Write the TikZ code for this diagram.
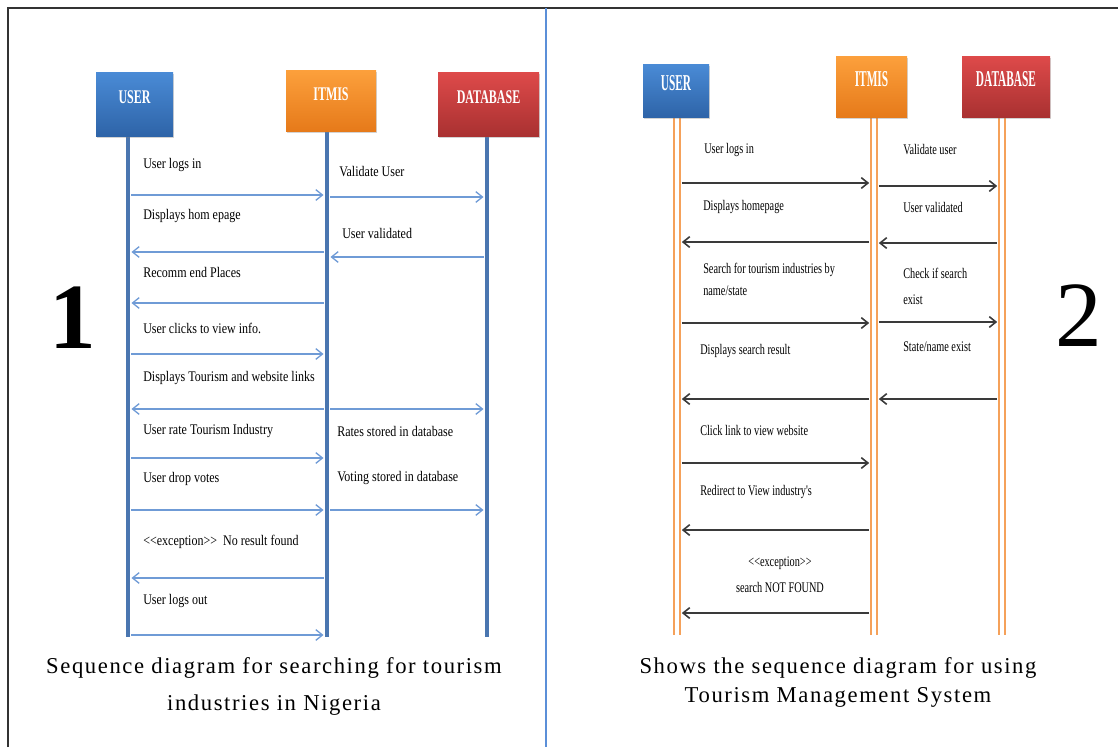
\documentclass[tikz,border=0pt]{standalone}
\usepackage{fontspec}
\setmainfont{Liberation Serif}
\newfontfamily\lblfontL[FakeStretch=0.82]{Liberation Serif}
\newfontfamily\lblfontR[FakeStretch=0.70]{Liberation Serif}
\newfontfamily\boxfontL[FakeStretch=0.62]{Liberation Serif}
\newfontfamily\boxfontR[FakeStretch=0.50]{Liberation Serif}
\newfontfamily\capfont[LetterSpace=7]{Liberation Serif}
\usetikzlibrary{arrows.meta,shadows}

\definecolor{lineblue}{HTML}{4A76B0}
\definecolor{arrowblue}{HTML}{6F9BD6}
\definecolor{lineorange}{HTML}{F5A15A}
\definecolor{arrowdark}{HTML}{3A3A3A}
\definecolor{blueT}{HTML}{4A8BD6}
\definecolor{blueB}{HTML}{2E64A8}
\definecolor{orangeT}{HTML}{FCA03C}
\definecolor{orangeB}{HTML}{E67A1A}
\definecolor{redT}{HTML}{DE4A4A}
\definecolor{redB}{HTML}{A93131}
\definecolor{divblue}{HTML}{5B8FD8}

\begin{document}
\begin{tikzpicture}[x=0.75pt,y=-0.75pt,line cap=butt,
  >={Straight Barb[length=5pt,width=8pt]},
  frame/.style={draw=black!80,line width=1.4pt},
  divider/.style={draw=divblue,line width=0.9pt},
  lifeL/.style={draw=lineblue,line width=3.6pt},
  lifeR/.style={draw=lineorange,line width=1.3pt,double=white,double distance=3.4pt},
  msgL/.style={->,draw=arrowblue,line width=1pt,shorten <=2.6pt,shorten >=2.6pt},
  msgR/.style={->,draw=arrowdark,line width=1.2pt,shorten <=3.6pt,shorten >=3.6pt},
  actor/.style={inner sep=0,text=white,drop shadow={shadow xshift=1pt,shadow yshift=-1.5pt,opacity=0.35}},
  actorL/.style={actor,font=\boxfontL\bfseries\fontsize{14.5}{16}\selectfont,text depth=10pt},
  actorR/.style={actor,font=\boxfontR\bfseries\fontsize{17}{19}\selectfont,text depth=12pt},
  userbox/.style={top color=blueT,bottom color=blueB},
  itmisbox/.style={top color=orangeT,bottom color=orangeB},
  dbbox/.style={top color=redT,bottom color=redB},
  lblL/.style={anchor=west,inner sep=0,font=\lblfontL\fontsize{11}{13}\selectfont},
  lblR/.style={anchor=west,inner sep=0,align=left,font=\lblfontR\fontsize{11}{16.5}\selectfont},
  caption/.style={inner sep=0,font=\capfont\fontsize{17}{20}\selectfont}]
  \useasboundingbox (0,0) rectangle (1118,747);

  % frame
  \draw[frame] (8,747) -- (8,8) -- (1118,8);
  \draw[divider] (546,8) -- (546,747);

  % diagram 1
  \coordinate (lu) at (128,136);
  \coordinate (li) at (327,131);
  \coordinate (ld) at (487,136);
  \draw[lifeL] (lu) -- (lu |- 0,637);
  \draw[lifeL] (li) -- (li |- 0,637);
  \draw[lifeL] (ld) -- (ld |- 0,637);
  \node[actorL,userbox,minimum width=57.75pt,minimum height=48pt] (userL) at (134.5,104) {USER};
  \node[actorL,itmisbox,minimum width=67.5pt,minimum height=45.75pt] (itmisL) at (331,100.5) {ITMIS};
  \node[actorL,dbbox,minimum width=75.75pt,minimum height=48pt] (dbL) at (488.5,104) {DATABASE};

  \node[lblL] (a1) at (143,165) {User logs in};
  \node[lblL] (a2) at (339,172) {Validate User};
  \draw[msgL] (lu |- 0,195) -- (li |- 0,195);
  \draw[msgL] (li |- 0,197) -- (ld |- 0,197);
  \node[lblL] (a3) at (143,216) {Displays hom epage};
  \node[lblL] (a4) at (342,233) {User validated};
  \draw[msgL] (li |- 0,252) -- (lu |- 0,252);
  \draw[msgL] (ld |- 0,257) -- (li |- 0,257);
  \node[lblL] (a5) at (143,272) {Recomm end Places};
  \draw[msgL] (li |- 0,303) -- (lu |- 0,303);
  \node[lblL] (a6) at (143,328) {User clicks to view info.};
  \draw[msgL] (lu |- 0,354) -- (li |- 0,354);
  \node[lblL] (a7) at (143,378) {Displays Tourism and website links};
  \draw[msgL] (li |- 0,409) -- (lu |- 0,409);
  \draw[msgL] (li |- 0,409) -- (ld |- 0,409);
  \node[lblL] (a8) at (143,431) {User rate Tourism Industry};
  \node[lblL] (a9) at (337,431) {Rates stored in database};
  \draw[msgL] (lu |- 0,458) -- (li |- 0,458);
  \node[lblL] (a10) at (143,479) {User drop votes};
  \node[lblL] (a11) at (337,478) {Voting stored in database};
  \draw[msgL] (lu |- 0,510) -- (li |- 0,510);
  \draw[msgL] (li |- 0,510) -- (ld |- 0,510);
  \node[lblL] (a12) at (143,542) {<<exception>>\ \ No result found};
  \draw[msgL] (li |- 0,578) -- (lu |- 0,578);
  \node[lblL] (a13) at (143,601) {User logs out};
  \draw[msgL] (lu |- 0,635) -- (li |- 0,635);

  \node[inner sep=0,font=\bfseries\fontsize{70}{70}\selectfont] (num1) at (73,318) {1};
  \node[caption] (capL1) at (274,668) {Sequence diagram for searching for tourism};
  \node[caption] (capL2) at (274,705) {industries in Nigeria};

  % diagram 2
  \coordinate (ru) at (677,117);
  \coordinate (ri) at (874,117);
  \coordinate (rd) at (1002,117);
  \draw[lifeR] (ru) -- (ru |- 0,635);
  \draw[lifeR] (ri) -- (ri |- 0,635);
  \draw[lifeR] (rd) -- (rd |- 0,635);
  \node[actorR,userbox,minimum width=49.5pt,minimum height=39.75pt] (userR) at (676,90.5) {USER};
  \node[actorR,itmisbox,minimum width=53.25pt,minimum height=45.75pt] (itmisR) at (871.5,86.5) {ITMIS};
  \node[actorR,dbbox,minimum width=66pt,minimum height=45.75pt] (dbR) at (1006,86.5) {DATABASE};

  \node[lblR] (b1) at (704,150) {User logs in};
  \node[lblR] (b2) at (903,150) {Validate user};
  \draw[msgR] (ru |- 0,183) -- (ri |- 0,183);
  \draw[msgR] (ri |- 0,186) -- (rd |- 0,186);
  \node[lblR] (b3) at (703,207) {Displays homepage};
  \node[lblR] (b4) at (903,207) {User validated};
  \draw[msgR] (ri |- 0,242) -- (ru |- 0,242);
  \draw[msgR] (rd |- 0,243) -- (ri |- 0,243);
  \node[lblR] (b5) at (703,279) {Search for tourism industries by\\name/state};
  \node[lblR,font=\lblfontR\fontsize{11}{20}\selectfont] (b6) at (903,286.5) {Check if search\\exist};
  \draw[msgR] (ru |- 0,323) -- (ri |- 0,323);
  \draw[msgR] (ri |- 0,322) -- (rd |- 0,322);
  \node[lblR] (b7) at (700,351) {Displays search result};
  \node[lblR] (b8) at (903,347) {State/name exist};
  \draw[msgR] (ri |- 0,399) -- (ru |- 0,399);
  \draw[msgR] (rd |- 0,399) -- (ri |- 0,399);
  \node[lblR] (b9) at (700,430) {Click link to view website};
  \draw[msgR] (ru |- 0,463) -- (ri |- 0,463);
  \node[lblR] (b10) at (700,492) {Redirect to View industry's};
  \draw[msgR] (ri |- 0,530) -- (ru |- 0,530);
  \node[lblR,align=center,anchor=center,font=\lblfontR\fontsize{11}{19.5}\selectfont] (b11) at (780,575) {<<exception>>\\search NOT FOUND};
  \draw[msgR] (ri |- 0,613) -- (ru |- 0,613);

  \node[inner sep=0,font=\fontsize{70}{70}\selectfont] (num2) at (1079,316) {2};
  \node[caption] (capR1) at (838,668) {Shows the sequence diagram for using};
  \node[caption] (capR2) at (838,697) {Tourism Management System};
\end{tikzpicture}
\end{document}
